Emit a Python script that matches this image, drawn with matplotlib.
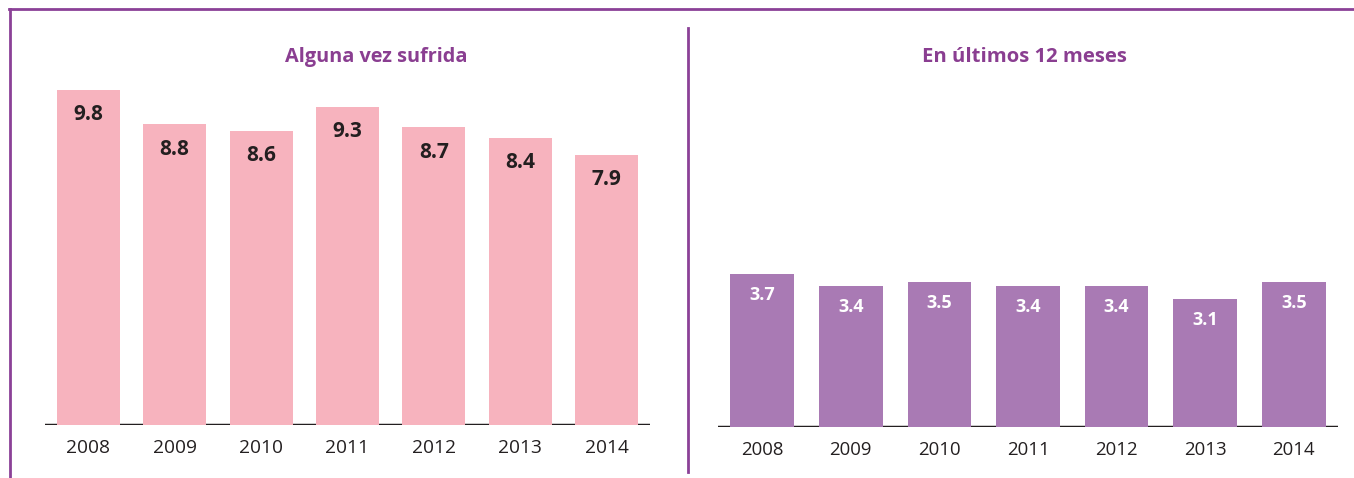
import numpy as np
import matplotlib.pyplot as plt
from matplotlib.lines import Line2D

plt.rcParams['font.family'] = ['Open Sans', 'DejaVu Sans']

years = ['2008', '2009', '2010', '2011', '2012', '2013', '2014']
alguna_vez = [9.8, 8.8, 8.6, 9.3, 8.7, 8.4, 7.9]
ultimos_12 = [3.7, 3.4, 3.5, 3.4, 3.4, 3.1, 3.5]

W, H = 1354, 478
pink = '#F7B3BE'
lilac = '#A97AB4'
purple = '#8A3E91'
frame = '#8B4197'

fig = plt.figure(figsize=(W / 100, H / 100), dpi=100)


def px_axes(x0, x1, y_base, y_top):
        # pixel box (from top-left) -> figure fraction
        return fig.add_axes([x0 / W, (H - y_base) / H, (x1 - x0) / W, (y_base - y_top) / H])


def panel(ax, vals, color, txt_color, px_per_unit, height_px, label_off, bw, val_fs, tick_fs):
        x = np.arange(len(vals))
        ax.bar(x, vals, width=bw, color=color, zorder=2)
        ax.axhline(0, color='#231F20', lw=2.5, zorder=1)
        ax.set_xlim(-0.5, len(vals) - 0.5)
        ax.set_ylim(0, height_px / px_per_unit)
        for xi, v in zip(x, vals):
                ax.text(xi, v - label_off / px_per_unit, '{:.1f}'.format(v), ha='center', va='center',
                        fontsize=val_fs, fontweight='bold', color=txt_color, zorder=3)
        ax.set_xticks(x)
        ax.set_xticklabels(years, fontsize=tick_fs, color='#231F20')
        ax.tick_params(axis='x', length=0, pad=10)
        ax.set_yticks([])
        for s in ax.spines.values():
                s.set_visible(False)
        ax.patch.set_alpha(0)
        return ax


ax1 = px_axes(45, 650, 425, 57)
panel(ax1, alguna_vez, pink, '#231F20', 34.2, 425 - 57, 25, 0.73, 15, 13.8)
ax2 = px_axes(718, 1338, 427, 57)
panel(ax2, ultimos_12, lilac, 'white', 41.4, 427 - 57, 21, 0.72, 13, 13.4)

fig.text(376 / W, 1 - 57 / H, 'Alguna vez sufrida', ha='center', va='center',
         fontsize=14.3, fontweight='bold', color=purple)
fig.text(1024 / W, 1 - 57 / H, 'En últimos 12 meses', ha='center', va='center',
         fontsize=14.6, fontweight='bold', color=purple)

# frame lines
fig.add_artist(Line2D([9 / W, 1], [1 - 8.5 / H, 1 - 8.5 / H], color=frame, lw=2))
fig.add_artist(Line2D([9.5 / W, 9.5 / W], [0, 1 - 8.5 / H], color=frame, lw=2))
fig.add_artist(Line2D([687.5 / W, 687.5 / W], [1 - 28 / H, 1 - 472 / H], color=frame, lw=2))

plt.savefig('out.png', dpi=100)
